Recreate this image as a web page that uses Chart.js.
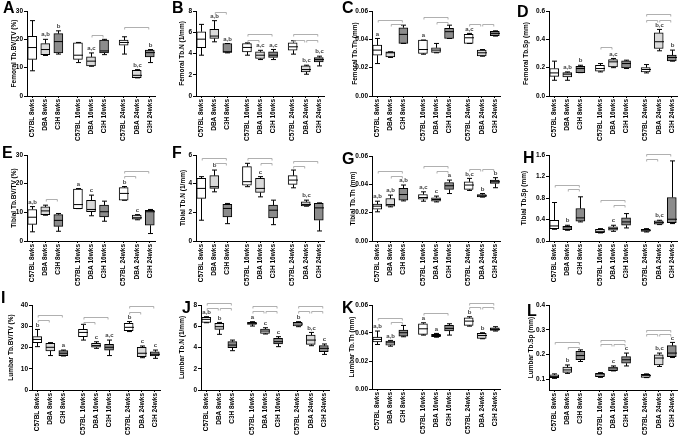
<!DOCTYPE html>
<html>
<head>
<meta charset="utf-8">
<script src="https://cdn.jsdelivr.net/npm/chart.js@4.4.1/dist/chart.umd.min.js"></script>
<style>
  body { margin: 0; background: #fff; }
  #fig { position: relative; width: 685px; height: 439px; overflow: hidden; font-family: "Liberation Sans", Arial, sans-serif; }
  .cell { position: absolute; }
  .cell canvas { position: absolute; left: 0; top: 0; }
  .tag { position: absolute; font-weight: bold; font-size: 16px; line-height: 1; color: #000; }
</style>
</head>
<body>
<div id="fig"></div>
<script>
const groups = ['C57BL 8wks', 'DBA 8wks', 'C3H 8wks', 'C57BL 16wks', 'DBA 16wks', 'C3H 16wks', 'C57BL 24wks', 'DBA 24wks', 'C3H 24wks'];
const slots = [0, 1, 2, 3.5, 4.5, 5.5, 7, 8, 9];

// each box: [min, q1, median, q3, max]
const femBvtv = [
  [8.9, 12.9, 17.1, 21.1, 26.6], [14.3, 14.6, 16.4, 18.5, 20.0], [14.8, 15.2, 19.2, 22.0, 23.0],
  [11.8, 12.9, 14.4, 18.8, 18.9], [10.5, 10.6, 12.3, 13.8, 15.2], [14.6, 15.2, 15.9, 19.7, 20.0],
  [14.8, 17.9, 18.9, 19.7, 20.9], [6.4, 6.5, 7.3, 9.1, 9.3], [11.8, 13.8, 15.3, 16.2, 16.4]
];
const femBvtvSig = ['', 'a,b', 'b', '', 'a,c', '', '', 'b,c', 'b'];
const femBvtvBr = [[4, 5, 21.7], [6, 8, 24.2]];
const femBvtvTicks = [0, 10, 20, 30];

const femTbN = [
  [3.84, 4.54, 5.35, 6.05, 6.74], [5.1, 5.42, 5.64, 6.27, 7.09], [4.06, 4.1, 4.16, 4.94, 4.94],
  [3.84, 4.16, 4.57, 4.94, 5.0], [3.43, 3.53, 3.84, 4.16, 4.3], [3.43, 3.62, 3.84, 4.16, 4.38],
  [3.94, 4.31, 4.63, 5.0, 5.2], [2.05, 2.27, 2.49, 2.83, 2.9], [2.83, 3.21, 3.43, 3.62, 3.75]
];
const femTbNSig = ['', 'a,b', 'a,b', '', 'a,c', 'a,c', '', 'b,c', 'b,c'];
const femTbNBr = [[1, 2, 7.87], [3, 5, 5.8], [3, 4, 5.3], [6, 8, 5.8], [6, 7, 5.3], [7, 8, 5.3]];
const femTbNTicks = [0, 2, 4, 6, 8];

const femTbTh = [
  [0.0229, 0.0288, 0.0324, 0.0359, 0.0406], [0.0272, 0.0276, 0.0305, 0.0312, 0.0312], [0.0371, 0.0371, 0.0435, 0.0482, 0.0500],
  [0.0295, 0.0300, 0.0328, 0.0395, 0.0395], [0.0305, 0.0307, 0.0324, 0.0340, 0.0371], [0.0406, 0.0406, 0.0454, 0.0477, 0.0500],
  [0.0371, 0.0371, 0.0411, 0.0435, 0.0442], [0.0281, 0.0283, 0.0305, 0.0324, 0.0328], [0.0423, 0.0425, 0.0442, 0.0456, 0.0460]
];
const femTbThSig = ['a', '', '', 'a', '', '', 'a,c', '', ''];
const femTbThBr = [[0, 2, 0.054], [1, 2, 0.0506], [3, 5, 0.056], [4, 5, 0.0524], [6, 7, 0.0508], [7, 8, 0.0508]];
const femTbThTicks = [0, 0.02, 0.04, 0.06];

const femTbSp = [
  [0.111, 0.139, 0.163, 0.194, 0.246], [0.111, 0.135, 0.154, 0.165, 0.170], [0.165, 0.165, 0.194, 0.210, 0.217],
  [0.170, 0.175, 0.194, 0.217, 0.229], [0.200, 0.206, 0.241, 0.257, 0.265], [0.194, 0.198, 0.229, 0.248, 0.253],
  [0.163, 0.170, 0.187, 0.200, 0.222], [0.319, 0.335, 0.383, 0.446, 0.470], [0.246, 0.248, 0.272, 0.288, 0.324]
];
const femTbSpSig = ['', 'a,b', 'b', '', 'a,c', '', '', 'b,c', 'b'];
const femTbSpBr = [[3, 4, 0.343], [6, 8, 0.579], [6, 7, 0.536], [7, 8, 0.536]];
const femTbSpTicks = [0, 0.2, 0.4, 0.6];

const tibBvtv = [
  [3.2, 5.8, 8.3, 11.0, 12.0], [9.0, 9.2, 10.5, 11.9, 12.5], [3.4, 5.1, 7.2, 9.2, 9.6],
  [11.3, 11.3, 12.7, 18.1, 18.3], [8.8, 10.2, 11.0, 14.2, 16.0], [6.9, 8.4, 10.2, 12.5, 13.9],
  [14.2, 14.2, 16.6, 18.6, 19.0], [7.4, 7.6, 8.1, 9.0, 9.2], [2.6, 5.5, 10.2, 10.7, 11.0]
];
const tibBvtvSig = ['a,b', '', '', 'a', 'c', '', 'b', 'c', ''];
const tibBvtvBr = [[1, 2, 14.5], [6, 8, 24.4], [6, 7, 22.6]];
const tibBvtvTicks = [0, 10, 20, 30];

const tibTbN = [
  [1.45, 2.97, 3.67, 4.37, 4.49], [3.43, 3.67, 3.79, 4.56, 4.95], [1.21, 1.68, 2.27, 2.55, 2.62],
  [3.79, 3.90, 4.14, 5.19, 5.42], [3.08, 3.39, 3.67, 4.37, 4.49], [1.14, 1.61, 2.15, 2.50, 2.85],
  [3.71, 3.95, 4.25, 4.56, 4.95], [2.43, 2.45, 2.55, 2.73, 2.85], [0.70, 1.45, 2.31, 2.62, 2.66]
];
const tibTbNSig = ['', 'b', '', '', 'c', '', '', 'b,c', ''];
const tibTbNBr = [[0, 2, 5.82], [1, 2, 5.47], [3, 5, 5.82], [4, 5, 5.47], [6, 8, 5.58], [6, 7, 5.23]];
const tibTbNTicks = [0, 2, 4, 6];

const tibTbTh = [
  [0.0206, 0.0224, 0.0246, 0.0260, 0.0281], [0.0241, 0.0246, 0.0257, 0.0300, 0.0324], [0.0283, 0.0288, 0.0328, 0.0371, 0.0395],
  [0.0281, 0.0295, 0.0307, 0.0328, 0.0347], [0.0276, 0.0281, 0.0293, 0.0305, 0.0317], [0.0335, 0.0364, 0.0390, 0.0413, 0.0430],
  [0.0357, 0.0364, 0.0395, 0.0418, 0.0442], [0.0310, 0.0312, 0.0319, 0.0328, 0.0335], [0.0376, 0.0406, 0.0418, 0.0430, 0.0447]
];
const tibTbThSig = ['a,b', 'a,b', 'a,b', 'a,c', 'c', 'a', 'b,c', 'b', 'b'];
const tibTbThBr = [[0, 2, 0.0494], [1, 2, 0.0458], [3, 5, 0.0532], [4, 5, 0.0494], [6, 7, 0.0508], [7, 8, 0.0508]];
const tibTbThTicks = [0, 0.02, 0.04, 0.06];

const tibTbSp = [
  [0.218, 0.230, 0.280, 0.386, 0.716], [0.200, 0.212, 0.243, 0.274, 0.293], [0.355, 0.367, 0.430, 0.604, 0.822],
  [0.150, 0.156, 0.180, 0.218, 0.230], [0.180, 0.200, 0.230, 0.262, 0.293], [0.243, 0.293, 0.355, 0.430, 0.510],
  [0.168, 0.180, 0.200, 0.218, 0.230], [0.305, 0.311, 0.342, 0.374, 0.386], [0.324, 0.342, 0.405, 0.810, 1.490]
];
const tibTbSpSig = ['', 'b', '', '', 'c', '', '', 'b,c', ''];
const tibTbSpBr = [[0, 2, 1.05], [1, 2, 0.96], [3, 5, 0.76], [4, 5, 0.67], [6, 8, 1.62], [6, 7, 1.52]];
const tibTbSpTicks = [0, 0.4, 0.8, 1.2, 1.6];

const lumBvtv = [
  [20.4, 22.3, 23.8, 25.1, 28.5], [16.2, 18.4, 20.1, 22.0, 22.3], [16.0, 16.2, 17.3, 18.5, 18.8],
  [23.5, 25.1, 27.1, 28.5, 30.9], [19.6, 20.1, 20.9, 22.0, 22.7], [16.2, 18.8, 20.1, 21.5, 23.5],
  [27.5, 27.9, 29.5, 31.4, 32.2], [15.2, 15.7, 17.3, 20.1, 20.7], [14.9, 16.0, 16.8, 18.0, 18.8]
];
const lumBvtvSig = ['b', '', 'a', '', 'c', 'a,c', 'b', 'c', 'c'];
const lumBvtvBr = [[0, 2, 35.3], [0, 1, 32.9], [3, 5, 34.5], [3, 4, 32.2], [6, 8, 39.5], [6, 7, 36.9]];
const lumBvtvTicks = [0, 10, 20, 30, 40];

const lumTbN = [
  [6.33, 6.36, 6.65, 6.83, 6.90], [5.24, 5.71, 5.96, 6.27, 6.36], [3.70, 3.98, 4.23, 4.55, 4.70],
  [6.02, 6.18, 6.27, 6.36, 6.43], [5.27, 5.33, 5.55, 5.74, 5.86], [4.08, 4.33, 4.55, 4.86, 5.02],
  [5.96, 6.02, 6.21, 6.36, 6.43], [4.17, 4.29, 4.70, 5.17, 5.42], [3.35, 3.60, 3.92, 4.17, 4.33]
];
const lumTbNSig = ['a,b', 'b', '', 'a', 'c', 'c', 'b', 'b,c', 'c'];
const lumTbNBr = [[0, 2, 8.15], [0, 1, 7.74], [1, 2, 7.74], [3, 5, 7.9], [3, 4, 7.4], [4, 5, 7.4], [6, 8, 7.9], [6, 7, 7.4], [7, 8, 7.4]];
const lumTbNTicks = [0, 2, 4, 6, 8];

const lumTbTh = [
  [0.0318, 0.0337, 0.0354, 0.0370, 0.0414], [0.0306, 0.0313, 0.0330, 0.0342, 0.0347], [0.0373, 0.0378, 0.0402, 0.0421, 0.0454],
  [0.0385, 0.0390, 0.0430, 0.0466, 0.0473], [0.0370, 0.0373, 0.0382, 0.0390, 0.0397], [0.0385, 0.0414, 0.0433, 0.0454, 0.0466],
  [0.0449, 0.0454, 0.0485, 0.0509, 0.0516], [0.0359, 0.0361, 0.0382, 0.0397, 0.0402], [0.0414, 0.0418, 0.0426, 0.0437, 0.0445]
];
const lumTbThSig = ['a,b', 'a,b', '', 'a', 'a', '', 'b', 'b', ''];
const lumTbThBr = [[0, 2, 0.0509], [1, 2, 0.0478], [3, 5, 0.0545], [6, 8, 0.0617], [6, 7, 0.0588], [7, 8, 0.0588]];
const lumTbThTicks = [0, 0.02, 0.04, 0.06];

const lumTbSp = [
  [0.104, 0.107, 0.111, 0.118, 0.122], [0.124, 0.128, 0.138, 0.149, 0.158], [0.172, 0.179, 0.196, 0.213, 0.219],
  [0.108, 0.111, 0.118, 0.124, 0.127], [0.134, 0.135, 0.142, 0.149, 0.154], [0.154, 0.165, 0.179, 0.192, 0.206],
  [0.107, 0.108, 0.115, 0.120, 0.122], [0.152, 0.158, 0.186, 0.199, 0.206], [0.188, 0.192, 0.206, 0.236, 0.249]
];
const lumTbSpSig = ['', 'b', '', '', 'c', 'c', '', 'b,c', 'c'];
const lumTbSpBr = [[0, 2, 0.251], [1, 2, 0.230], [3, 5, 0.257], [3, 4, 0.242], [4, 5, 0.242], [6, 8, 0.301], [6, 7, 0.283], [7, 8, 0.283]];
const lumTbSpTicks = [0.1, 0.2, 0.3, 0.4];

const fills = ['#ffffff', '#dadada', '#8c8c8c'];

Chart.defaults.font.family = '"Liberation Sans", Arial, sans-serif';

// layout per panel (cell coords): plot left, top, bottom, y-title centre
const panels = [
  { tag: 'A', title: 'Femoral Tb.BV/TV (%)', stats: femBvtv, sig: femBvtvSig, br: femBvtvBr, ticks: femBvtvTicks, min: 0, dec: 0, col: 0, row: 0, left: 27, top: 11, bottom: 96, titleX: 14, tx: 3, ty: 2 },
  { tag: 'B', title: 'Femoral Tb.N (1/mm)', stats: femTbN, sig: femTbNSig, br: femTbNBr, ticks: femTbNTicks, min: 0, dec: 0, col: 1, row: 0, left: 26, top: 11, bottom: 96, titleX: 12.5, tx: 172, ty: 2 },
  { tag: 'C', title: 'Femoral Tb.Th (mm)', stats: femTbTh, sig: femTbThSig, br: femTbThBr, ticks: femTbThTicks, min: 0, dec: 2, col: 2, row: 0, left: 32, top: 11, bottom: 96, titleX: 15, tx: 342, ty: 2 },
  { tag: 'D', title: 'Femoral Tb.Sp (mm)', stats: femTbSp, sig: femTbSpSig, br: femTbSpBr, ticks: femTbSpTicks, min: 0, dec: 1, col: 3, row: 0, left: 39, top: 11, bottom: 96, titleX: 16, tx: 517, ty: 6 },
  { tag: 'E', title: 'Tibial Tb.BV/TV (%)', stats: tibBvtv, sig: tibBvtvSig, br: tibBvtvBr, ticks: tibBvtvTicks, min: 0, dec: 0, col: 0, row: 1, left: 27, top: 10, bottom: 96, titleX: 14, tx: 2, ty: 147 },
  { tag: 'F', title: 'Tibial Tb.N (1/mm)', stats: tibTbN, sig: tibTbNSig, br: tibTbNBr, ticks: tibTbNTicks, min: 0, dec: 0, col: 1, row: 1, left: 26, top: 10, bottom: 96, titleX: 13, tx: 172, ty: 147 },
  { tag: 'G', title: 'Tibial Tb.Th (mm)', stats: tibTbTh, sig: tibTbThSig, br: tibTbThBr, ticks: tibTbThTicks, min: 0, dec: 2, col: 2, row: 1, left: 32, top: 11, bottom: 96, titleX: 13, tx: 342, ty: 153 },
  { tag: 'H', title: 'Tibial Tb.Sp (mm)', stats: tibTbSp, sig: tibTbSpSig, br: tibTbSpBr, ticks: tibTbSpTicks, min: 0, dec: 1, col: 3, row: 1, left: 39, top: 10, bottom: 96, titleX: 14, tx: 523, ty: 152 },
  { tag: 'I', title: 'Lumbar Tb.BV/TV (%)', stats: lumBvtv, sig: lumBvtvSig, br: lumBvtvBr, ticks: lumBvtvTicks, min: 0, dec: 0, col: 0, row: 2, left: 32, top: 15, bottom: 100, titleX: 11.5, tx: 1, ty: 292 },
  { tag: 'J', title: 'Lumbar Tb.N (1/mm)', stats: lumTbN, sig: lumTbNSig, br: lumTbNBr, ticks: lumTbNTicks, min: 0, dec: 0, col: 1, row: 2, left: 31, top: 15, bottom: 100, titleX: 12, tx: 182, ty: 302 },
  { tag: 'K', title: 'Lumbar Tb.Th (mm)', stats: lumTbTh, sig: lumTbThSig, br: lumTbThBr, ticks: lumTbThTicks, min: 0, dec: 2, col: 2, row: 2, left: 32, top: 15, bottom: 99, titleX: 12.5, tx: 342, ty: 302 },
  { tag: 'L', title: 'Lumbar Tb.Sp (mm)', stats: lumTbSp, sig: lumTbSpSig, br: lumTbSpBr, ticks: lumTbSpTicks, min: 0.057, dec: 1, col: 3, row: 2, left: 39, top: 15, bottom: 100, titleX: 21, tx: 527, ty: 305 }
];

const colX = [0, 170, 340, 510];
const colW = [170, 170, 170, 175];
const rowY = [0, 145, 290];
const rowH = [145, 145, 149];
const plotW = 128;
const tickFont = { size: 6.5, weight: 'bold' };

// whiskers, medians, letters and brackets on top of the floating-bar boxes
function boxExtras(p) {
  return {
    id: 'boxExtras',
    afterDatasetsDraw(chart) {
      const { ctx, scales: { x, y } } = chart;
      ctx.save();
      ctx.strokeStyle = '#000';
      ctx.lineWidth = 1;
      p.stats.forEach((s, i) => {
        const cx = Math.round(x.getPixelForValue(slots[i])) + 0.5;
        const [lo, q1, md, q3, hi] = s.map(v => y.getPixelForValue(v));
        ctx.beginPath();
        ctx.moveTo(cx, q3); ctx.lineTo(cx, hi);
        ctx.moveTo(cx, q1); ctx.lineTo(cx, lo);
        ctx.moveTo(cx - 2.5, hi); ctx.lineTo(cx + 2.5, hi);
        ctx.moveTo(cx - 2.5, lo); ctx.lineTo(cx + 2.5, lo);
        ctx.moveTo(cx - 4.5, md); ctx.lineTo(cx + 4.5, md);
        ctx.stroke();
        if (p.sig[i]) {
          ctx.fillStyle = '#444';
          ctx.font = 'bold 6px "Liberation Sans", Arial, sans-serif';
          ctx.textAlign = 'center';
          ctx.textBaseline = 'bottom';
          ctx.fillText(p.sig[i], cx, hi - 1.5);
        }
      });
      ctx.strokeStyle = '#9c9c9c';
      ctx.lineWidth = 0.8;
      p.br.forEach(([a, b, v]) => {
        const xa = x.getPixelForValue(slots[a]) + 1;
        const xb = x.getPixelForValue(slots[b]) - 1;
        const yy = Math.round(y.getPixelForValue(v)) + 0.5;
        ctx.beginPath();
        ctx.moveTo(xa, yy + 2); ctx.lineTo(xa, yy); ctx.lineTo(xb, yy); ctx.lineTo(xb, yy + 2);
        ctx.stroke();
      });
      ctx.restore();
    }
  };
}

function makePanel(p) {
  const fig = document.getElementById('fig');
  const w = colW[p.col], h = rowH[p.row];
  const cell = document.createElement('div');
  cell.className = 'cell';
  cell.style.left = colX[p.col] + 'px';
  cell.style.top = rowY[p.row] + 'px';
  cell.style.width = w + 'px';
  cell.style.height = h + 'px';
  const canvas = document.createElement('canvas');
  canvas.width = w; canvas.height = h;
  canvas.style.width = w + 'px'; canvas.style.height = h + 'px';
  cell.appendChild(canvas);
  fig.appendChild(cell);

  const tag = document.createElement('div');
  tag.className = 'tag';
  tag.textContent = p.tag;
  tag.style.left = p.tx + 'px';
  tag.style.top = (p.ty - 2) + 'px';
  fig.appendChild(tag);

  new Chart(canvas, {
    type: 'bar',
    data: {
      datasets: [{
        data: p.stats.map((s, i) => ({ x: slots[i], y: [s[1], s[3]] })),
        backgroundColor: p.stats.map((s, i) => fills[i % 3]),
        borderColor: '#000',
        borderWidth: 1,
        borderSkipped: false,
        barThickness: 9
      }]
    },
    options: {
      responsive: false,
      animation: false,
      devicePixelRatio: 1,
      layout: { padding: { left: 0, top: p.top, right: w - p.left - plotW, bottom: 0 } },
      plugins: { legend: { display: false }, tooltip: { enabled: false } },
      scales: {
        x: {
          type: 'linear',
          bounds: 'data',
          offset: false,
          min: -0.4,
          max: 9.4,
          afterBuildTicks: ax => { ax.ticks = slots.map(v => ({ value: v })); },
          afterFit: ax => { ax.height = h - p.bottom; },
          ticks: {
            autoSkip: false, minRotation: 90, maxRotation: 90, padding: 1,
            font: tickFont, color: '#000',
            callback: (v, i) => groups[i]
          },
          grid: { drawOnChartArea: false, offset: false, tickLength: 2, color: '#000' },
          border: { color: '#000', width: 1 }
        },
        y: {
          min: p.min,
          max: p.ticks[p.ticks.length - 1],
          afterBuildTicks: ax => { ax.ticks = p.ticks.map(v => ({ value: v })); },
          afterFit: ax => { ax.width = p.left; },
          ticks: { padding: 1, font: tickFont, color: '#000', callback: v => v.toFixed(p.dec) },
          grid: { drawOnChartArea: false, tickLength: 3, color: '#000' },
          border: { color: '#000', width: 1 },
          title: {
            display: true, text: p.title, color: '#000',
            font: { size: 6.5, weight: 'bold', lineHeight: 1.2 },
            padding: { top: p.titleX - 3.9, bottom: 0 }
          }
        }
      }
    },
    plugins: [boxExtras(p)]
  });
}

panels.forEach(makePanel);
</script>
</body>
</html>
